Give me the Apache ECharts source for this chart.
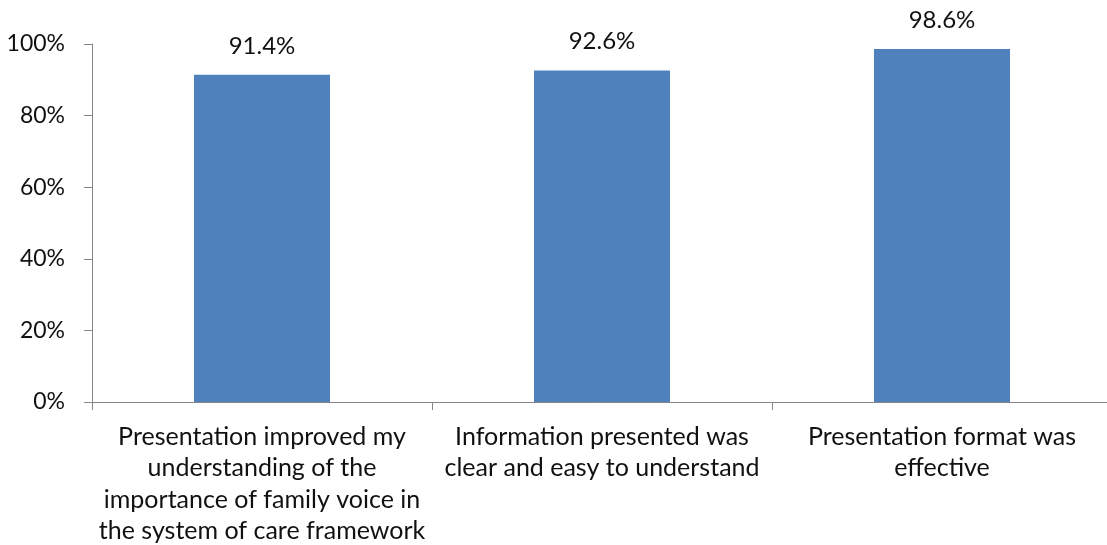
<!DOCTYPE html>
<html>
<head>
<meta charset="utf-8">
<script src="https://cdn.jsdelivr.net/npm/echarts@6/dist/echarts.min.js"></script>
<style>
  html, body { margin: 0; padding: 0; background: #fff; }
  #chart { width: 1107px; height: 545px; }
</style>
</head>
<body>
<div id="chart"></div>
<script>
  // categories (wrapped as in the original axis labels)
  var categories = [
    'Presentation improved my\nunderstanding of the\nimportance of family voice in\nthe system of care framework',
    'Information presented was\nclear and easy to understand',
    'Presentation format was\neffective'
  ];
  var agreeValues = [91.4, 92.6, 98.6];
  var yTicks = [0, 20, 40, 60, 80, 100];

  var axisGray = '#868686';
  var font = 'Lato';

  var chart = echarts.init(document.getElementById('chart'));
  chart.setOption({
    animation: false,
    textStyle: { fontFamily: font },
    grid: { left: 92, width: 1020, top: 44, height: 358, outerBoundsMode: 'none', containLabel: false },
    xAxis: {
      type: 'category',
      data: categories,
      axisLine: { lineStyle: { color: axisGray, width: 1 } },
      axisTick: { show: true, length: 8, lineStyle: { color: axisGray } },
      axisLabel: {
        color: '#111',
        fontFamily: font,
        fontSize: 25,
        lineHeight: 31.5,
        margin: 19,
        interval: 0
      }
    },
    yAxis: {
      type: 'value',
      min: yTicks[0],
      max: yTicks[yTicks.length - 1],
      interval: 20,
      splitLine: { show: false },
      axisLine: { show: true, lineStyle: { color: axisGray, width: 1 } },
      axisTick: { show: true, length: 8, lineStyle: { color: axisGray } },
      axisLabel: {
        color: '#111',
        fontFamily: font,
        fontSize: 23,
        margin: 27,
        formatter: '{value}%'
      }
    },
    series: [{
      type: 'bar',
      data: agreeValues,
      barWidth: '40%',
      itemStyle: { color: '#4F81BD' },
      label: {
        show: true,
        position: 'top',
        distance: 17,
        color: '#111',
        fontFamily: font,
        fontSize: 24,
        formatter: function (p) { return p.value.toFixed(1) + '%'; }
      }
    }]
  });
</script>
</body>
</html>
